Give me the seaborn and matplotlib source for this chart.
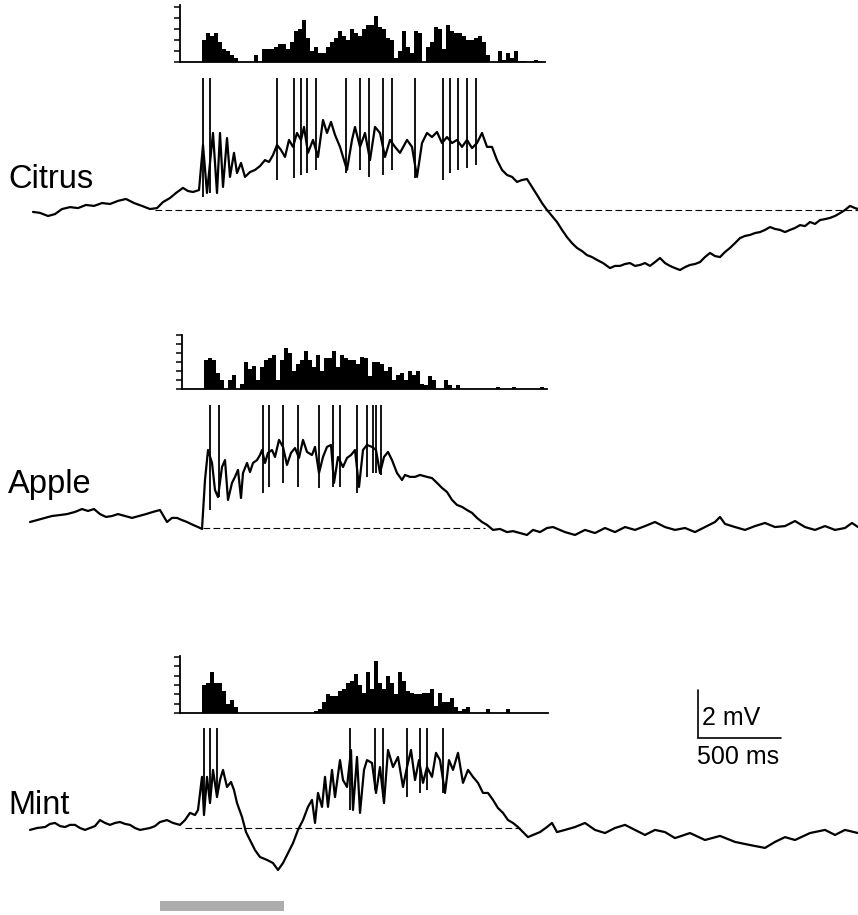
import numpy as np
import pandas as pd
import matplotlib
matplotlib.use("Agg")
import matplotlib.pyplot as plt
import seaborn as sns

# ---- membrane potential traces: time (ms) and potential relative to rest (mV) ----
citrus_t = [18, 60, 108, 150, 192, 240, 288, 336, 384, 432, 480, 528, 576, 624, 672, 720, 762,
            798, 840, 876, 918, 948, 978, 1014, 1038, 1062, 1098, 1122, 1140, 1158, 1182, 1200,
            1224, 1242, 1266, 1290, 1320, 1350, 1380, 1410, 1434, 1458, 1482, 1506, 1530, 1554,
            1578, 1602, 1626, 1644, 1668, 1698, 1728, 1758, 1782, 1806, 1830, 1860, 1902, 1932,
            1950, 1980, 2010, 2040, 2070, 2100, 2130, 2160, 2190, 2220, 2262, 2292, 2322, 2352,
            2382, 2412, 2442, 2472, 2502, 2532, 2562, 2592, 2622, 2652, 2682, 2712, 2742, 2772,
            2802, 2832, 2862, 2892, 2922, 2952, 2982, 3012, 3042, 3072, 3102, 3132, 3162, 3192,
            3222, 3252, 3282, 3312, 3342, 3372, 3402, 3438, 3480, 3510, 3540, 3570, 3600, 3630,
            3660, 3690, 3720, 3750, 3780, 3810, 3840, 3870, 3900, 3930, 3960, 3990, 4020, 4050,
            4080, 4110, 4140, 4170, 4200, 4230, 4260, 4290, 4320, 4350, 4380, 4410, 4440, 4470,
            4500, 4530, 4560, 4590, 4620, 4650, 4680, 4710, 4740, 4770, 4800, 4830, 4860, 4890,
            4920, 4950, 4968]
citrus_v = [-0.08, -0.12, -0.25, -0.17, 0.04, 0.12, 0.08, 0.21, 0.17, 0.29, 0.25, 0.38, 0.46,
            0.29, 0.17, 0.04, 0.08, 0.33, 0.5, 0.71, 0.92, 0.79, 0.75, 0.83, 2.71, 0.71, 3.21,
            0.71, 3.21, 0.96, 3.0, 1.38, 2.38, 1.54, 1.96, 1.38, 1.58, 1.67, 1.83, 2.08, 2.0,
            2.29, 2.71, 2.5, 2.21, 2.92, 2.63, 3.21, 2.92, 3.46, 2.38, 2.92, 2.21, 3.75, 3.21,
            3.67, 3.13, 2.63, 1.67, 2.92, 3.46, 2.63, 3.21, 2.08, 3.46, 3.21, 2.21, 2.92, 2.63,
            2.38, 2.92, 2.63, 1.38, 2.79, 3.21, 3.04, 3.25, 2.79, 3.04, 2.79, 2.92, 2.63, 2.92,
            2.58, 2.79, 3.21, 2.63, 2.63, 2.08, 1.67, 1.46, 1.38, 1.17, 1.25, 1.29, 0.96, 0.63,
            0.29, 0.0, -0.25, -0.5, -0.83, -1.13, -1.38, -1.58, -1.71, -1.88, -1.96, -2.08,
            -2.21, -2.42, -2.33, -2.33, -2.25, -2.21, -2.33, -2.29, -2.21, -2.33, -2.17, -2.0,
            -2.21, -2.33, -2.42, -2.5, -2.38, -2.29, -2.25, -2.17, -1.96, -1.79, -1.92, -1.96,
            -1.75, -1.58, -1.38, -1.17, -1.08, -1.04, -0.96, -0.92, -0.83, -0.71, -0.79, -0.83,
            -0.92, -0.83, -0.75, -0.63, -0.67, -0.5, -0.58, -0.42, -0.38, -0.33, -0.25, -0.13,
            0.0, 0.17, 0.08, 0.04]

apple_t = [0, 42, 90, 132, 180, 222, 270, 312, 348, 384, 420, 456, 492, 528, 570, 612, 654, 696,
           738, 780, 822, 852, 882, 912, 942, 978, 1008, 1032, 1050, 1068, 1092, 1110, 1128,
           1152, 1170, 1188, 1212, 1230, 1248, 1266, 1278, 1302, 1320, 1338, 1362, 1380, 1392,
           1410, 1428, 1452, 1470, 1494, 1518, 1542, 1566, 1590, 1614, 1638, 1662, 1692, 1710,
           1734, 1758, 1782, 1806, 1824, 1848, 1878, 1902, 1926, 1950, 1974, 1998, 2022, 2052,
           2076, 2100, 2124, 2148, 2172, 2202, 2232, 2250, 2280, 2310, 2340, 2382, 2412, 2442,
           2472, 2502, 2532, 2562, 2592, 2622, 2652, 2682, 2712, 2742, 2778, 2820, 2862, 2898,
           2940, 2982, 3018, 3060, 3102, 3138, 3180, 3210, 3270, 3330, 3390, 3450, 3510, 3570,
           3630, 3690, 3750, 3810, 3870, 3930, 3990, 4050, 4110, 4140, 4170, 4230, 4290, 4350,
           4410, 4470, 4530, 4590, 4650, 4710, 4770, 4830, 4890, 4932, 4968]
apple_v = [0.25, 0.33, 0.42, 0.5, 0.54, 0.58, 0.67, 0.79, 0.71, 0.79, 0.58, 0.46, 0.5, 0.58, 0.5,
           0.42, 0.5, 0.58, 0.67, 0.75, 0.25, 0.42, 0.42, 0.33, 0.25, 0.13, 0.04, -0.04, 2.0,
           3.25, 2.71, 1.58, 1.29, 2.54, 2.83, 1.17, 1.88, 2.13, 2.42, 1.25, 2.29, 2.71, 2.33,
           2.71, 2.83, 3.04, 3.25, 2.71, 3.13, 3.25, 2.96, 3.67, 3.38, 2.63, 3.13, 3.33, 2.92,
           3.67, 3.17, 3.04, 3.38, 2.29, 2.96, 3.38, 3.46, 1.88, 2.96, 2.54, 2.92, 3.04, 3.25,
           1.71, 3.25, 3.46, 3.38, 3.25, 2.29, 2.96, 3.17, 2.83, 2.29, 2.0, 2.21, 2.13, 2.13,
           2.21, 2.13, 2.08, 1.88, 1.67, 1.5, 1.17, 0.96, 0.88, 0.75, 0.63, 0.42, 0.25, 0.13,
           -0.08, -0.04, -0.17, -0.13, -0.21, -0.29, -0.08, -0.17, 0.0, 0.04, -0.08, -0.17,
           -0.29, -0.08, -0.21, 0.0, -0.17, 0.04, -0.08, 0.08, 0.25, 0.04, -0.08, 0.0, -0.17,
           0.04, 0.25, 0.46, 0.17, 0.04, -0.08, 0.08, 0.21, 0.04, 0.08, 0.29, 0.04, -0.08, 0.08,
           -0.08, 0.0, 0.21, 0.04]

mint_t = [0, 42, 90, 120, 150, 180, 210, 240, 270, 300, 330, 360, 390, 420, 450, 480, 510, 540,
          570, 600, 630, 660, 690, 720, 750, 780, 822, 858, 900, 930, 960, 990, 1008, 1032, 1044,
          1062, 1080, 1098, 1122, 1140, 1158, 1182, 1206, 1224, 1242, 1272, 1296, 1320, 1350,
          1380, 1422, 1458, 1488, 1518, 1548, 1578, 1608, 1638, 1668, 1692, 1710, 1728, 1752,
          1770, 1788, 1812, 1830, 1860, 1878, 1902, 1926, 1938, 1962, 1980, 2004, 2022, 2052,
          2076, 2100, 2124, 2148, 2178, 2208, 2238, 2262, 2286, 2310, 2334, 2358, 2382, 2412,
          2436, 2460, 2490, 2514, 2538, 2568, 2598, 2628, 2658, 2688, 2718, 2748, 2778, 2808,
          2838, 2868, 2898, 2928, 2958, 2988, 3018, 3060, 3102, 3132, 3162, 3210, 3270, 3330,
          3390, 3450, 3510, 3570, 3630, 3690, 3750, 3810, 3870, 3960, 4050, 4140, 4230, 4320,
          4410, 4470, 4530, 4590, 4680, 4770, 4830, 4890, 4968]
mint_v = [-0.08, 0.0, 0.04, 0.17, 0.21, 0.08, 0.04, 0.13, 0.13, 0.0, -0.08, 0.0, 0.08, 0.33,
          0.21, 0.13, 0.21, 0.25, 0.17, 0.13, 0.0, -0.08, -0.04, 0.0, 0.08, 0.25, 0.33, 0.21,
          0.13, 0.33, 0.63, 0.54, 0.75, 2.13, 0.54, 2.13, 1.04, 2.42, 1.29, 2.0, 2.42, 1.71,
          1.92, 1.58, 1.04, 0.46, -0.17, -0.5, -0.92, -1.21, -1.33, -1.46, -1.75, -1.46, -1.04,
          -0.63, -0.08, 0.33, 0.88, 1.17, 0.21, 1.46, 0.88, 2.13, 0.88, 2.42, 1.29, 2.83, 2.0,
          1.71, 3.25, 0.75, 2.96, 0.63, 2.42, 2.83, 2.71, 1.46, 2.54, 1.04, 3.25, 2.54, 2.96,
          1.71, 2.54, 3.25, 2.0, 2.83, 1.88, 2.54, 2.13, 3.13, 2.83, 1.46, 2.83, 2.42, 3.13,
          1.88, 2.42, 2.13, 1.88, 1.46, 1.46, 1.17, 0.83, 0.63, 0.33, 0.21, 0.04, -0.17, -0.38,
          -0.29, -0.17, 0.04, 0.21, -0.17, -0.08, 0.04, 0.21, -0.08, -0.21, 0.0, 0.13, -0.08,
          -0.29, -0.08, -0.17, -0.42, -0.21, -0.5, -0.33, -0.58, -0.71, -0.83, -0.58, -0.38,
          -0.5, -0.21, -0.08, -0.29, -0.08, -0.21]

# ---- action potentials (clipped): time, trough (mV) and clipped peak ----
citrus_spike_t = [1038, 1080, 1482, 1584, 1626, 1662, 1716, 1896, 1980, 2034, 2118, 2172, 2310,
                  2478, 2520, 2568, 2622, 2676]
citrus_spike_low = [0.54, 0.71, 1.25, 1.33, 1.46, 1.54, 1.67, 1.54, 1.67, 1.38, 1.46, 1.67, 1.33,
                    1.25, 1.54, 1.67, 1.75, 1.88]
citrus_spike_top = 5.5

apple_spike_t = [1080, 1134, 1398, 1434, 1518, 1608, 1734, 1818, 1860, 1962, 2022, 2058, 2076, 2106]
apple_spike_low = [0.75, 1.29, 1.46, 1.71, 1.88, 1.71, 1.67, 1.71, 1.71, 1.46, 2.13, 2.29, 2.29, 2.21]
apple_spike_top = 5.13

mint_spike_t = [1044, 1080, 1122, 1920, 2070, 2118, 2262, 2340, 2382, 2478]
mint_spike_low = [0.54, 1.04, 1.29, 0.75, 1.58, 1.29, 1.29, 1.46, 1.58, 1.46]
mint_spike_top = 4.17

# resting-level reference (dashed) spans, ms
citrus_rest = (750, 4968)
apple_rest = (1038, 2730)
mint_rest = (930, 2940)

# odour stimulus, ms
stim_on, stim_off = 780, 1524

# ---- PSTHs: 24 ms bins ----
bin_ms = 24
citrus_hist_start = 1032
citrus_hist = [10, 13, 12, 13, 9, 6, 5, 3, 2, 0, 0, 0, 0, 3, 0, 6, 6, 6, 7, 8, 8, 6, 9, 14, 15,
               19, 11, 5, 7, 4, 4, 7, 9, 11, 14, 12, 10, 15, 13, 12, 15, 17, 17, 21, 16, 15, 11,
               10, 2, 5, 14, 7, 4, 14, 13, 0, 7, 9, 16, 15, 6, 17, 14, 13, 13, 12, 10, 10, 11, 12,
               9, 3, 0, 0, 5, 1, 4, 2, 5, 0.5, 0.5, 0, 0.5, 1, 0.5]
apple_hist_start = 1044
apple_hist = [16, 17, 16, 9, 5, 0, 5, 8, 0, 3, 15, 11, 13, 5, 12, 16, 17, 19, 5, 16, 23, 20, 10,
              14, 16, 21, 16, 12, 19, 10, 17, 17, 21, 12, 19, 17, 16, 16, 14, 18, 17, 7, 15, 15,
              14, 10, 12, 5, 8, 9, 5, 10, 8, 10, 3, 2, 7, 5, 0, 0, 5, 2, 0, 2,
              0, 0, 0, 0, 0, 0, 0, 0, 0, 1, 0, 0, 0, 1, 0, 0, 0, 0, 0, 0, 1]
mint_hist_start = 1032
mint_hist = [15, 16, 22, 16, 16, 12, 5, 7, 3] + [0] * 19 + \
            [1, 2, 6, 10, 9, 9, 12, 13, 16, 17, 21, 15, 11, 22, 13, 28, 16, 13, 20, 16, 10, 22,
             17, 12, 11, 10, 10, 11, 11, 13, 4, 11, 6, 6, 8, 3, 1, 2, 3, 0, 0, 0, 0, 2, 0, 0, 0,
             0, 2]

# ---- layout (figure pixels) ----
W, H = 858, 915
MS_PER_PX = 6.0
PX_PER_MV = 24.0
X_ORIGIN = 30          # pixel column of t = 0
T0 = -X_ORIGIN * MS_PER_PX
T1 = (W - X_ORIGIN) * MS_PER_PX

sns.set_style("white")
plt.rcParams["font.family"] = ["Liberation Sans", "DejaVu Sans"]
plt.rcParams["text.color"] = "black"

fig = plt.figure(figsize=(W / 100, H / 100), dpi=100)


def trace_axes(top, bottom, base):
    ax = fig.add_axes([0, 1 - bottom / H, 1, (bottom - top) / H])
    ax.set_facecolor("none")
    ax.set_xlim(T0, T1)
    ax.set_ylim((base - bottom) / PX_PER_MV, (base - top) / PX_PER_MV)
    ax.axis("off")
    return ax


def hist_axes(x0, x1, top, base, counts, start, ymax):
    ax = fig.add_axes([x0 / W, 1 - base / H, (x1 - x0) / W, (base - top) / H])
    ax.set_facecolor("none")
    edges = start + bin_ms * np.arange(len(counts) + 1)
    df = pd.DataFrame({"t": edges[:-1] + bin_ms / 2, "n": counts})
    sns.histplot(data=df, x="t", weights="n", bins=list(edges), ax=ax, color="black",
                 alpha=1, linewidth=0, element="bars")
    ax.set_xlim((x0 - X_ORIGIN) * MS_PER_PX, (x1 - X_ORIGIN) * MS_PER_PX)
    ax.set_ylim(0, ymax)
    ax.set_yticks(np.arange(0, ymax + 0.01, 5))
    ax.set_xticks([])
    ax.set_yticklabels([])
    ax.set_xlabel("")
    ax.set_ylabel("")
    for side in ["top", "right"]:
        ax.spines[side].set_visible(False)
    for side in ["left", "bottom"]:
        ax.spines[side].set_linewidth(1.3)
        ax.spines[side].set_color("black")
    ax.tick_params(axis="y", direction="out", length=4, width=1.1, color="black", left=True)
    return ax


def draw_trace(ax, t, v, spike_t, spike_low, spike_top, rest):
    ax.hlines(0, rest[0], rest[1], colors="black", linewidth=0.8, linestyles=(0, (6, 3)))
    ax.vlines(spike_t, spike_low, spike_top, colors="black", linewidth=1.3)
    sns.lineplot(x=t, y=v, ax=ax, sort=False, estimator=None, color="black", linewidth=1.6)


ax_c = trace_axes(60, 300, 210)
draw_trace(ax_c, citrus_t, citrus_v, citrus_spike_t, citrus_spike_low, citrus_spike_top, citrus_rest)
hist_axes(180, 545, 5, 62, citrus_hist, citrus_hist_start, 25.9)

ax_a = trace_axes(390, 560, 528)
draw_trace(ax_a, apple_t, apple_v, apple_spike_t, apple_spike_low, apple_spike_top, apple_rest)
hist_axes(182, 547, 335, 389, apple_hist, apple_hist_start, 30)

ax_m = trace_axes(640, 915, 828)
draw_trace(ax_m, mint_t, mint_v, mint_spike_t, mint_spike_low, mint_spike_top, mint_rest)
hist_axes(180, 548, 656, 713, mint_hist, mint_hist_start, 30.6)

# stimulus bar under the Mint trace
ax_m.fill_between([stim_on, stim_off], -3.04, -3.46, color="#adadad", linewidth=0)

# scale bar: 500 ms x 2 mV
sb_t, sb_v = 4008, 3.75
ax_m.plot([sb_t, sb_t, sb_t + 500], [sb_v + 2, sb_v, sb_v], color="black", linewidth=1.2,
          solid_joinstyle="miter")
ax_m.text(sb_t + 25, sb_v + 0.85, "2 mV", fontsize=18, va="center", ha="left", color="black")
ax_m.text(sb_t - 5, sb_v - 0.3, "500 ms", fontsize=18, va="top", ha="left", color="black")

# odour labels
for name, baseline in [("Citrus", 188), ("Apple", 493), ("Mint", 814)]:
    fig.text(8 / W, 1 - baseline / H, name, fontsize=23.5, va="baseline", ha="left",
             color="black")

fig.savefig("out.png", dpi=100)
